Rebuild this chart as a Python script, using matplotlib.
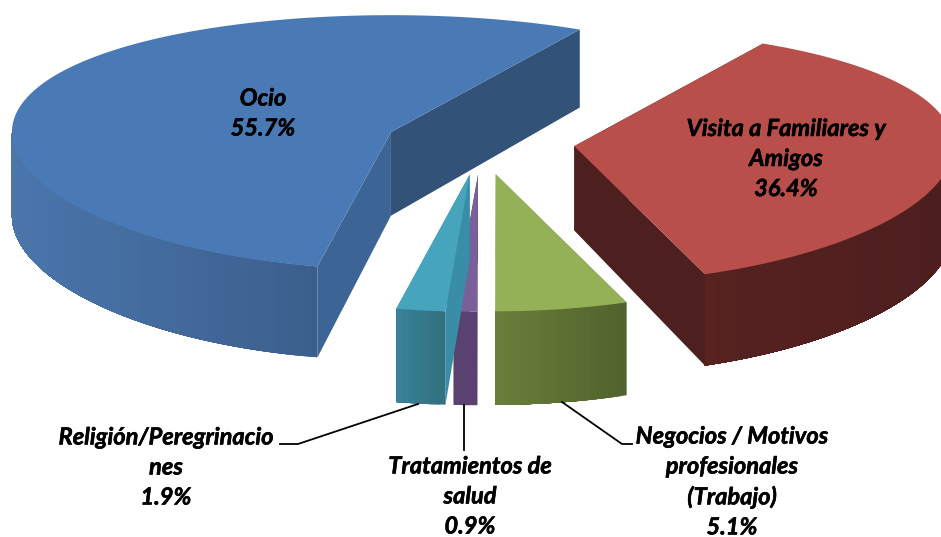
import numpy as np
import matplotlib
matplotlib.use("Agg")
import matplotlib.pyplot as plt
import matplotlib.patheffects as pe
from matplotlib.patches import Polygon

# slices, clockwise from the start angle
labels = ["Visita a Familiares y\nAmigos\n36.4%",
          "Negocios / Motivos\nprofesionales\n(Trabajo)\n5.1%",
          "Tratamientos de\nsalud\n0.9%",
          "Religión/Peregrinacio\nnes\n1.9%",
          "Ocio\n55.7%"]
values = [36.4, 5.1, 0.9, 1.9, 55.7]

top_colors = ["#B84F4B", "#95B158", "#7B5F99", "#46A4BD", "#4A7AB5"]
wall_left = ["#572220", "#6A7F3A", "#5A4270", "#388298", "#4A76AC"]
wall_right = ["#4C1E1E", "#50622E", "#5A4270", "#32707F", "#3B5F8D"]
first_cut = ["#4E1F1F", "#6A7F3A", "#5A4270", "#3A8DA6", "#3C6494"]
last_cut = ["#4E1F1F", "#6A7F3A", "#5A4270", "#3A8DA6", "#325278"]

label_pos = [(786, 158.5), (732, 481.5), (470, 496), (166, 467), (263, 113)]

cx, cy = 480, 143
rx = 379
explode = 0.25
start = 59.8


def warp(t):
    d = np.radians(t + 85)
    return t + 3 * np.sin(d) * (1 + np.cos(d))


def rim(t, off):
    a = np.radians(warp(t))
    s = np.sin(a)
    return off[0] + rx * np.cos(a), off[1] - s * (127 - 10 * s)


def depth(y):
    return 84 + (y - 140) * 0.055


def down(p):
    return p[0], p[1] + depth(p[1])


def mix(c1, c2, f):
    a = np.array(matplotlib.colors.to_rgb(c1))
    b = np.array(matplotlib.colors.to_rgb(c2))
    return tuple(a + (b - a) * f)


fig = plt.figure(figsize=(9.41, 5.37), dpi=100)
ax = fig.add_axes([0, 0, 1, 1])
ax.set_xlim(0, 941)
ax.set_ylim(537, 0)
ax.axis("off")

angle = start
slices = []
for i, v in enumerate(values):
    span = v / 100 * 360
    t1, t2 = angle, angle - span
    mid = np.radians((t1 + t2) / 2)
    off = (cx + explode * rx * np.cos(mid), cy - explode * 127 * np.sin(mid))
    slices.append((i, t1, t2, off))
    angle = t2

# back to front: ocio, red, green, teal, purple
for i, t1, t2, off in [slices[4], slices[0], slices[1], slices[3], slices[2]]:
    p1 = rim(t1, off)
    p2 = rim(t2, off)
    # cut faces
    ax.add_patch(Polygon([off, p2, down(p2), down(off)], fc=last_cut[i], ec="none", zorder=i))
    ax.add_patch(Polygon([off, p1, down(p1), down(off)], fc=first_cut[i], ec="none", zorder=i))
    # outer wall in bands, front half only; each band runs to the wall's end
    # and the next one paints over it, so no seams show
    ts = np.linspace(t1, t2, 240)
    ts = ts[np.sin(np.radians(warp(ts))) < 0]
    if len(ts) > 1:
        xs = [rim(t, off)[0] for t in ts]
        x0, x1 = min(xs), max(xs)
        n_bands = max(int((x1 - x0) / 6), 1)
        edges = np.linspace(0, len(ts) - 1, n_bands + 1).astype(int)
        for k, a in enumerate(edges[:-1]):
            part = ts[a:]
            top = [rim(t, off) for t in part]
            f = (rim(ts[(a + edges[k + 1]) // 2], off)[0] - x0) / max(x1 - x0, 1)
            c = mix(wall_left[i], wall_right[i], f)
            ax.add_patch(Polygon(top + [down(p) for p in top[::-1]], fc=c, ec="none", zorder=i + 0.1))
    # top face
    ts = np.linspace(t1, t2, 200)
    ax.add_patch(Polygon([off] + [rim(t, off) for t in ts], fc=top_colors[i], ec="none", zorder=i + 0.2))

# leader lines
ax.plot([418, 298, 280], [404, 444, 444], color="black", lw=1.3, zorder=10)
ax.plot([464, 464], [405, 450], color="black", lw=1.3, zorder=10)
ax.plot([562, 622, 632], [402, 444, 444], color="black", lw=1.3, zorder=10)

for lab, (x, y) in zip(labels, label_pos):
    ax.text(x, y, lab, ha="center", va="center", family="Lato", style="italic",
            weight="bold", fontsize=17, linespacing=1.37, color="black", zorder=11,
            path_effects=[pe.withStroke(linewidth=0.4, foreground="black")])

fig.savefig("out.png", dpi=100)
